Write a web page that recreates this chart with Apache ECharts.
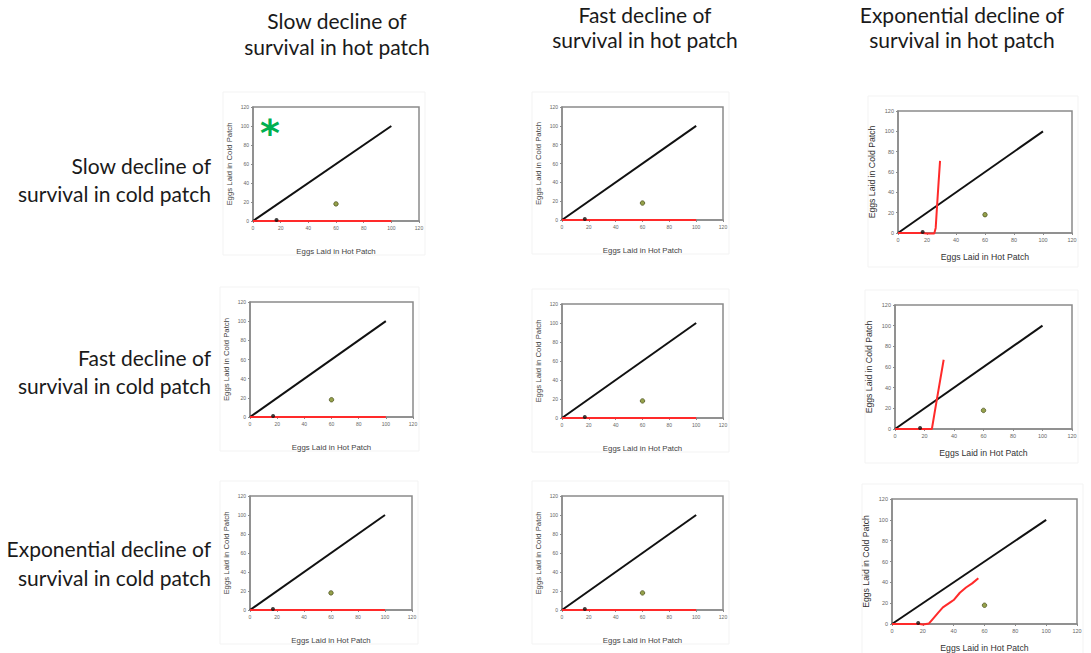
<!DOCTYPE html>
<html>
<head>
<meta charset="utf-8">
<script src="https://cdn.jsdelivr.net/npm/echarts@6/dist/echarts.min.js"></script>
<style>
html,body{margin:0;padding:0;background:#fff;}
#chart{width:1091px;height:653px;}
</style>
</head>
<body>
<div id="chart"></div>
<script>
// ---- data ----
const columnTitles = ['Slow decline of\nsurvival in hot patch', 'Fast decline of\nsurvival in hot patch', 'Exponential decline of\nsurvival in hot patch'];
const rowTitles = ['Slow decline of\nsurvival in cold patch', 'Fast decline of\nsurvival in cold patch', 'Exponential decline of\nsurvival in cold patch'];
const xAxisName = 'Eggs Laid in Hot Patch';
const yAxisName = 'Eggs Laid in Cold Patch';
const axisMin = 0, axisMax = 120, axisStep = 20;
const diagonalLine = [[0, 0], [100, 100]];
const redFlat = [[0, 0], [100, 0]];
const redExpSlowCold = [[0, 0], [17, 0], [20, -0.5], [25, -0.5], [26, 5], [27, 28], [28, 50], [29, 71]];
const redExpFastCold = [[0, 0], [18, 0], [22, 0], [25, 0], [28.3, 28], [33, 67]];
const redExpExpCold = [[0, 0], [18, 0], [20, -0.5], [24, 0.5], [26, 4], [30, 11], [33, 16], [38, 21], [40, 23], [44, 30], [48, 35], [52, 39], [56, 44]];
const blackPoint = [[17, 1]];
const greenPoint = [[60, 18]];
const redCurves = [
  [redFlat, redFlat, redExpSlowCold],
  [redFlat, redFlat, redExpFastCold],
  [redFlat, redFlat, redExpExpCold]
];
const starMark = '*';

// ---- layout (pixel boxes of each plot area: left, right, top, bottom) ----
const boxes = [
  [[253, 419, 107, 221], [562, 723, 107, 220], [898, 1072, 111, 233]],
  [[250, 413, 302, 417], [562, 723, 304, 418], [895, 1072, 305, 429]],
  [[250, 412, 496, 610], [562, 723, 496, 610], [892, 1077, 499, 627]]
];

const grids = [], xAxes = [], yAxes = [], series = [], graphics = [];
let gi = 0;
for (let r = 0; r < 3; r++) {
  for (let c = 0; c < 3; c++) {
    const [l, rt, t, b] = boxes[r][c];
    const big = c === 2;
    grids.push({left: l, top: t, width: rt - l, height: b - t, show: true, borderColor: '#8a8a8a', borderWidth: 1.5, backgroundColor: '#fff'});
    // faint panel frame
    graphics.push({type: 'rect', z: -10, shape: {x: l - 30, y: t - 15, width: (rt - l) + 36, height: (b - t) + 49},
      style: {fill: '#fff', stroke: '#f3f3f3', lineWidth: 1}});
    const common = {
      gridIndex: gi, type: 'value', min: axisMin, max: axisMax, interval: axisStep,
      splitLine: {show: false},
      axisLine: {show: true, lineStyle: {color: '#8a8a8a', width: 1.5}},
      axisTick: {show: true, length: 2, lineStyle: {color: '#8a8a8a'}},
      axisLabel: {fontSize: big ? 5.5 : 5, color: '#666', margin: 4, fontFamily: 'Liberation Sans'},
      nameLocation: 'middle',
      nameTextStyle: {fontSize: big ? 8.7 : 7.8, color: big ? '#333' : '#444', fontFamily: 'Liberation Sans'}
    };
    xAxes.push(Object.assign({}, common, {name: xAxisName, nameGap: big ? 19 : 26}));
    yAxes.push(Object.assign({}, common, {name: yAxisName, nameGap: big ? 22 : 20}));
    series.push({type: 'line', xAxisIndex: gi, yAxisIndex: gi, data: diagonalLine, showSymbol: false, symbol: 'none',
      lineStyle: {color: '#111', width: 2}, z: 3, silent: true});
    series.push({type: 'line', xAxisIndex: gi, yAxisIndex: gi, data: redCurves[r][c], showSymbol: false, symbol: 'none',
      lineStyle: {color: '#ff2a2a', width: 2}, z: 4, clip: false, silent: true});
    series.push({type: 'scatter', xAxisIndex: gi, yAxisIndex: gi, data: blackPoint, symbolSize: 4,
      itemStyle: {color: '#111'}, z: 5, silent: true});
    series.push({type: 'scatter', xAxisIndex: gi, yAxisIndex: gi, data: greenPoint, symbolSize: 4.5,
      itemStyle: {color: '#7b8a1e', borderColor: '#3a3f10', borderWidth: 0.8}, z: 5, silent: true});
    gi++;
  }
}

const titleFont = '21px Lato';
const colCenters = [[337, 20, 46], [645, 14, 39], [962, 14, 39]];
colCenters.forEach((cc, i) => {
  const lines = columnTitles[i].split('\n');
  lines.forEach((ln, k) => {
    graphics.push({type: 'text', z: 20, style: {text: ln, x: cc[0], y: cc[1 + k], font: titleFont, fill: '#1a1a1a', textAlign: 'center', textVerticalAlign: 'middle'}});
  });
});
const rowCenters = [[165, 193], [357, 385], [548, 577]];
rowCenters.forEach((rc, i) => {
  const lines = rowTitles[i].split('\n');
  lines.forEach((ln, k) => {
    graphics.push({type: 'text', z: 20, style: {text: ln, x: 211, y: rc[k], font: titleFont, fill: '#1a1a1a', textAlign: 'right', textVerticalAlign: 'middle'}});
  });
});
graphics.push({type: 'text', z: 20, style: {text: starMark, x: 270, y: 133, font: 'bold 38px DejaVu Sans', fill: '#00b050', textAlign: 'center', textVerticalAlign: 'middle'}});

const chart = echarts.init(document.getElementById('chart'), null, {renderer: 'svg'});
chart.setOption({
  animation: false,
  backgroundColor: '#fff',
  grid: grids,
  xAxis: xAxes,
  yAxis: yAxes,
  series: series,
  graphic: graphics
});
</script>
</body>
</html>
